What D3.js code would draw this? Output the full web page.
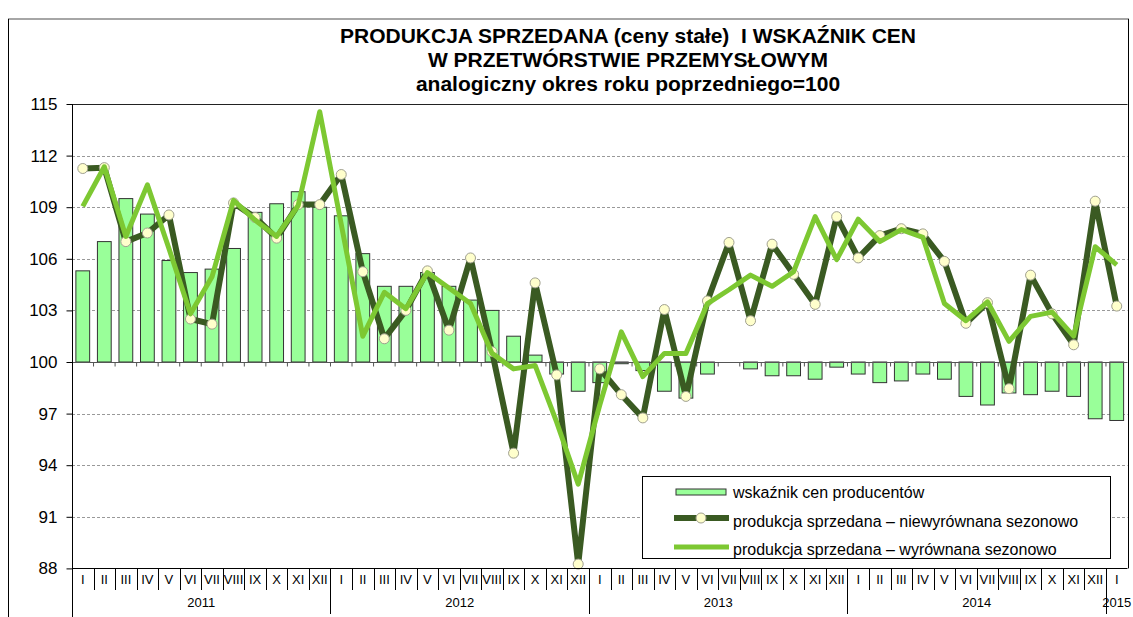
<!DOCTYPE html>
<html>
<head>
<meta charset="utf-8">
<script src="https://cdn.jsdelivr.net/npm/d3@7"></script>
<style>
  body { margin: 0; background: #fff; }
  svg { display: block; font-family: "Liberation Sans", Arial, sans-serif; }
</style>
</head>
<body>
<div id="chart"></div>
<script>
// miesiace 2011 I - 2015 I
var monthNames = ["I","II","III","IV","V","VI","VII","VIII","IX","X","XI","XII"];
var years = ["2011","2012","2013","2014","2015"];

// wskaznik cen producentow (slupki)
var cenyProducentow = [
  105.3, 107.0, 109.5, 108.6, 105.9, 105.2, 105.4, 106.6, 108.7, 109.2, 109.9, 109.0,
  108.5, 106.3, 104.4, 104.4, 105.2, 104.4, 103.6, 103.0, 101.5, 100.4, 99.3, 98.3,
  98.8, 99.9, 99.5, 98.3, 97.9, 99.3, 100.0, 99.6, 99.2, 99.2, 99.0, 99.7,
  99.3, 98.8, 98.9, 99.3, 99.0, 98.0, 97.5, 98.2, 98.1, 98.3, 98.0, 96.7,
  96.6
];

// produkcja sprzedana - niewyrownana sezonowo
var niewyrownana = [
  111.25, 111.3, 107.0, 107.5, 108.55, 102.5, 102.2, 109.25, 108.4, 107.2, 109.15, 109.15,
  110.9, 105.25, 101.35, 103.0, 105.3, 101.85, 106.05, 100.6, 94.7, 104.6, 99.25, 88.25,
  99.6, 98.1, 96.75, 103.05, 98.0, 103.55, 106.95, 102.4, 106.85, 105.1, 103.35, 108.45,
  106.05, 107.35, 107.75, 107.45, 105.85, 102.25, 103.45, 98.45, 105.05, 102.8, 101.0, 109.35,
  103.25
];

// produkcja sprzedana - wyrownana sezonowo
var wyrownana = [
  109.05, 111.35, 107.3, 110.3, 106.6, 102.8, 104.95, 109.4, 108.25, 107.3, 109.1, 114.55,
  108.0, 101.5, 104.05, 103.1, 105.2, 104.3, 103.4, 100.5, 99.6, 99.8, 96.5, 92.9,
  97.5, 101.75, 99.15, 100.5, 100.5, 103.4, 104.2, 105.05, 104.4, 105.25, 108.45, 105.95,
  108.3, 107.0, 107.7, 107.25, 103.4, 102.4, 103.5, 101.2, 102.65, 102.9, 101.5, 106.7,
  105.65
];

var yTicks = [88, 91, 94, 97, 100, 103, 106, 109, 112, 115];

var titleLines = [
  "PRODUKCJA SPRZEDANA (ceny stałe)  I WSKAŹNIK CEN",
  "W PRZETWÓRSTWIE PRZEMYSŁOWYM",
  "analogiczny okres roku poprzedniego=100"
];

var legendItems = [
  "wskaźnik cen producentów",
  "produkcja sprzedana – niewyrównana sezonowo",
  "produkcja sprzedana – wyrównana sezonowo"
];

(function() {
  var width = 1133, height = 617;
  var pLeft = 72, pRight = 1127.5, pTop = 104, pBottom = 568.4;

  var idx = d3.range(cenyProducentow.length);
  var monthLabels = idx.map(function(i) { return monthNames[i % 12]; });

  var x = d3.scaleBand()
      .domain(idx)
      .range([pLeft, pRight])
      .paddingInner(0.36)
      .paddingOuter(0.18);
  var step = x.step();
  function cx(i) { return x(i) + x.bandwidth() / 2; }
  function edge(k) { return pLeft + k * step; }

  var y = d3.scaleLinear().domain([88, 115]).range([pBottom, pTop]);

  var svg = d3.select("#chart").append("svg")
      .attr("width", width)
      .attr("height", height);

  // ramka
  svg.append("line").attr("x1", 8).attr("x2", 1129).attr("y1", 19).attr("y2", 19)
      .attr("stroke", "#888").attr("stroke-width", 1.5);
  svg.append("line").attr("x1", 8.5).attr("x2", 8.5).attr("y1", 19).attr("y2", height)
      .attr("stroke", "#000");
  svg.append("line").attr("x1", 1128.5).attr("x2", 1128.5).attr("y1", 19).attr("y2", pBottom)
      .attr("stroke", "#000");

  // tytul
  svg.append("g").selectAll("text")
      .data(titleLines)
    .enter().append("text")
      .attr("x", 628)
      .attr("y", function(d, i) { return 43 + i * 24; })
      .attr("text-anchor", "middle")
      .attr("font-size", "21px")
      .attr("font-weight", "bold")
      .style("white-space", "pre")
      .text(function(d) { return d; });

  // siatka
  svg.append("g").selectAll("line")
      .data(yTicks.filter(function(d) { return d !== 88 && d !== 115 && d !== 100; }))
    .enter().append("line")
      .attr("x1", pLeft).attr("x2", pRight)
      .attr("y1", function(d) { return Math.round(y(d)) + 0.5; })
      .attr("y2", function(d) { return Math.round(y(d)) + 0.5; })
      .attr("stroke", "#999")
      .attr("stroke-dasharray", "3,2");

  svg.append("line")
      .attr("x1", pLeft).attr("x2", pRight)
      .attr("y1", Math.round(y(115)) + 0.5).attr("y2", Math.round(y(115)) + 0.5)
      .attr("stroke", "#222");

  // os Y
  var yAxis = svg.append("g")
      .attr("transform", "translate(" + (pLeft + 0.5) + ",0)")
      .call(d3.axisLeft(y).tickValues(yTicks).tickSize(6).tickPadding(9).tickFormat(d3.format("d")));
  yAxis.select(".domain").remove();
  yAxis.selectAll("text").attr("font-size", "17px").attr("font-family", "Liberation Sans, Arial, sans-serif").attr("fill", "#000");
  yAxis.selectAll("line").attr("stroke", "#000");

  // slupki
  svg.append("g").selectAll("rect")
      .data(cenyProducentow)
    .enter().append("rect")
      .attr("x", function(d, i) { return x(i); })
      .attr("width", x.bandwidth())
      .attr("y", function(d) { return Math.min(y(d), y(100)); })
      .attr("height", function(d) { return Math.abs(y(d) - y(100)); })
      .attr("fill", "#99ff99")
      .attr("stroke", "#333")
      .attr("stroke-width", 1);

  // linia 100 z podzialka
  var y100 = Math.round(y(100)) + 0.5;
  svg.append("line")
      .attr("x1", pLeft).attr("x2", pRight).attr("y1", y100).attr("y2", y100)
      .attr("stroke", "#555");
  svg.append("g").selectAll("line")
      .data(d3.range(1, idx.length))
    .enter().append("line")
      .attr("x1", function(k) { return edge(k); })
      .attr("x2", function(k) { return edge(k); })
      .attr("y1", y100).attr("y2", y100 + 4)
      .attr("stroke", "#555");

  // linia niewyrownana
  var line = d3.line()
      .x(function(d, i) { return cx(i); })
      .y(function(d) { return y(d); });

  svg.append("path")
      .datum(niewyrownana)
      .attr("d", line)
      .attr("fill", "none")
      .attr("stroke", "#3a5a22")
      .attr("stroke-width", 6)
      .attr("stroke-linejoin", "round");

  svg.append("g").selectAll("circle")
      .data(niewyrownana)
    .enter().append("circle")
      .attr("cx", function(d, i) { return cx(i); })
      .attr("cy", function(d) { return y(d); })
      .attr("r", 5)
      .attr("fill", "#ffffcc")
      .attr("stroke", "#a0a090")
      .attr("stroke-width", 1);

  // linia wyrownana
  svg.append("path")
      .datum(wyrownana)
      .attr("d", line)
      .attr("fill", "none")
      .attr("stroke", "#7dc832")
      .attr("stroke-width", 5)
      .attr("stroke-linejoin", "round");

  // os X (dol)
  var yb = Math.round(pBottom) + 0.5;
  svg.append("line")
      .attr("x1", pLeft).attr("x2", pRight).attr("y1", yb).attr("y2", yb)
      .attr("stroke", "#000");
  svg.append("line")
      .attr("x1", pLeft + 0.5).attr("x2", pLeft + 0.5).attr("y1", pTop).attr("y2", height)
      .attr("stroke", "#000");

  svg.append("g").selectAll("line")
      .data(d3.range(1, idx.length))
    .enter().append("line")
      .attr("x1", function(k) { return Math.round(edge(k)) + 0.5; })
      .attr("x2", function(k) { return Math.round(edge(k)) + 0.5; })
      .attr("y1", yb)
      .attr("y2", function(k) { return k % 12 === 0 ? 614 : 590; })
      .attr("stroke", "#000");

  svg.append("g").selectAll("text")
      .data(monthLabels)
    .enter().append("text")
      .attr("x", function(d, i) { return cx(i); })
      .attr("y", 584)
      .attr("text-anchor", "middle")
      .attr("font-size", "13px")
      .text(function(d) { return d; });

  svg.append("g").selectAll("text")
      .data(years)
    .enter().append("text")
      .attr("x", function(d, i) {
        var a = i * 12, b = Math.min(a + 11, idx.length - 1);
        return (cx(a) + cx(b)) / 2;
      })
      .attr("y", 607)
      .attr("text-anchor", "middle")
      .attr("font-size", "13px")
      .text(function(d) { return d; });

  // legenda
  var lg = svg.append("g");
  lg.append("rect")
      .attr("x", 642.5).attr("y", 476.5).attr("width", 468).attr("height", 82)
      .attr("fill", "#fff").attr("stroke", "#000");

  lg.append("rect")
      .attr("x", 676).attr("y", 489).attr("width", 50).attr("height", 6)
      .attr("fill", "#99ff99").attr("stroke", "#333");
  lg.append("line")
      .attr("x1", 674).attr("x2", 729).attr("y1", 518).attr("y2", 518)
      .attr("stroke", "#3a5a22").attr("stroke-width", 6);
  lg.append("circle")
      .attr("cx", 701).attr("cy", 518).attr("r", 5)
      .attr("fill", "#ffffcc").attr("stroke", "#a0a090");
  lg.append("line")
      .attr("x1", 674).attr("x2", 729).attr("y1", 547).attr("y2", 547)
      .attr("stroke", "#7dc832").attr("stroke-width", 5);

  lg.selectAll("text.lt")
      .data(legendItems)
    .enter().append("text")
      .attr("class", "lt")
      .attr("x", 733)
      .attr("y", function(d, i) { return 498 + i * 28.5; })
      .attr("font-size", "16px")
      .text(function(d) { return d; });
})();
</script>
</body>
</html>
